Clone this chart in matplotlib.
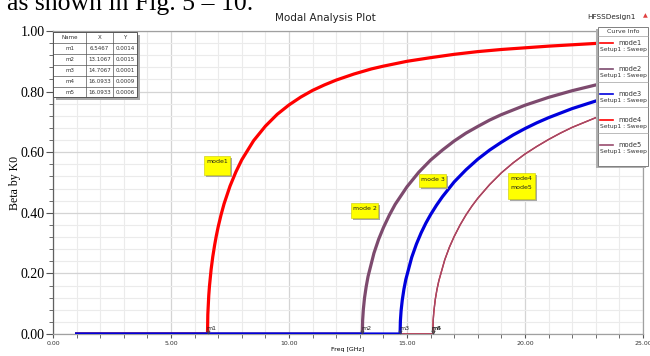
import matplotlib.pyplot as plt
from matplotlib.patches import Rectangle
from matplotlib.lines import Line2D
import numpy as np

W, H = 650, 356

# traces (Freq [GHz], Beta by K0)
mode1_f = [1.0, 6.5467, 6.56, 6.6, 6.63, 6.7, 6.77, 6.85, 6.92, 7.0, 7.12, 7.25, 7.5, 7.75, 8.0, 8.5, 9.0,
           9.5, 10, 10.5, 11, 11.5, 12, 12.75, 13.5, 14, 15, 16, 17, 18, 19, 21, 23, 25]
mode1_b = [0, 0, 0.064, 0.127, 0.158, 0.213, 0.255, 0.294, 0.324, 0.354, 0.393, 0.430, 0.488, 0.535, 0.575,
           0.638, 0.686, 0.725, 0.756, 0.782, 0.804, 0.822, 0.838, 0.858, 0.875, 0.884, 0.900, 0.912, 0.923,
           0.932, 0.939, 0.950, 0.959, 0.965]

mode2_f = [1.0, 13.1067, 13.12, 13.15, 13.2, 13.27, 13.35, 13.6, 13.8, 14.0, 14.25, 14.5, 15, 15.5, 16, 16.5,
           17, 17.5, 18, 18.5, 19, 20, 21, 22, 23, 24, 25]
mode2_b = [0, 0, 0.045, 0.081, 0.119, 0.156, 0.190, 0.267, 0.313, 0.351, 0.392, 0.428, 0.486, 0.534, 0.574,
           0.607, 0.637, 0.663, 0.685, 0.706, 0.724, 0.755, 0.781, 0.803, 0.822, 0.838, 0.852]

mode3_f = [1.0, 14.7067, 14.72, 14.75, 14.8, 14.87, 14.95, 15.2, 15.4, 15.6, 15.8, 16, 16.25, 16.5, 17, 17.5,
           18, 18.5, 19, 19.5, 20, 20.5, 21, 22, 23, 24, 25]
mode3_b = [0, 0, 0.043, 0.077, 0.112, 0.148, 0.180, 0.253, 0.297, 0.334, 0.366, 0.394, 0.425, 0.453, 0.502,
           0.542, 0.577, 0.607, 0.633, 0.657, 0.678, 0.697, 0.714, 0.744, 0.769, 0.790, 0.809]

mode45_f = [1.0, 16.0933, 16.11, 16.14, 16.2, 16.27, 16.35, 16.6, 16.8, 17, 17.25, 17.5, 17.75, 18, 18.5, 19,
            19.5, 20, 20.5, 21, 21.5, 22, 23, 24, 25]
mode45_b = [0, 0, 0.046, 0.076, 0.115, 0.147, 0.176, 0.245, 0.287, 0.322, 0.360, 0.393, 0.422, 0.448, 0.493,
            0.532, 0.565, 0.594, 0.619, 0.642, 0.663, 0.682, 0.714, 0.742, 0.765]

marker_names = ["m1", "m2", "m3", "m4", "m5"]
marker_x = [6.5467, 13.1067, 14.7067, 16.0933, 16.0933]
marker_y = [0.0014, 0.0015, 0.0001, 0.0009, 0.0006]

notes = [("mode1", 204, 156, 26, 19), ("mode 2", 351, 203, 27, 15),
         ("mode 3", 419, 174, 27, 13), ("mode4\nmode5", 508, 173, 27, 26)]

c_red = "#ff0000"
c_mauve = "#7d4a6e"
c_blue = "#0000dd"
c_mauve2 = "#9a4d6e"


def fx(x):
    return x / W


def fy(y):
    return 1 - y / H


fig = plt.figure(figsize=(6.5, 3.56), dpi=100)
ax = fig.add_axes([fx(53), fy(334), fx(643) - fx(53), fy(31) - fy(334)])

ax.set_xlim(0, 25)
ax.set_ylim(0, 1)
ax.set_xticks(np.arange(0, 26, 5))
ax.set_xticks(np.arange(0, 26, 1), minor=True)
ax.set_yticks(np.arange(0, 1.01, 0.2))
ax.set_yticks(np.arange(0, 1.01, 0.04), minor=True)
ax.grid(which="minor", color="#ebebeb", lw=0.8)
ax.grid(which="major", color="#d4d4d4", lw=0.9)
ax.set_axisbelow(True)
for s in ax.spines.values():
    s.set_color("#a0a0a0")
    s.set_linewidth(0.9)
ax.spines["left"].set_color("#606060")

ax.set_xticklabels([f"{v:.2f}" for v in range(0, 26, 5)], fontsize=4.5, color="#333333")
ax.set_yticklabels([f"{v:.2f}" for v in np.arange(0, 1.01, 0.2)], family="Liberation Serif", fontsize=10)
ax.tick_params(axis="x", which="both", length=3, color="#555555", pad=2)
ax.tick_params(axis="y", which="major", length=5, color="#555555", pad=1)
ax.tick_params(axis="y", which="minor", length=3, color="#555555")
ax.set_xlabel("Freq [GHz]", fontsize=4.5, labelpad=1)
ax.set_ylabel("Beta by K0", family="Liberation Serif", fontsize=8.5, labelpad=0)

ax.plot(mode1_f, mode1_b, color=c_red, lw=2.3, zorder=3)
ax.plot(mode2_f, mode2_b, color=c_mauve, lw=2.3, zorder=3)
ax.plot(mode45_f, mode45_b, color=c_red, lw=1.0, zorder=3)
ax.plot(mode45_f, mode45_b, color=c_mauve2, lw=1.0, zorder=3)
ax.plot(mode3_f, mode3_b, color=c_blue, lw=2.3, zorder=4)

# marker labels at the cutoffs
for name, mx, my in zip(marker_names, marker_x, marker_y):
    ax.plot(mx, my + 0.006, marker="v", ms=2.2, color="#444444", mfc="none", mew=0.6, zorder=5)
    ax.text(mx - 0.05, 0.013, name, fontsize=4.5, color="#222222", zorder=5)

# yellow notes
for txt, x, y, w, h in notes:
    fig.add_artist(Rectangle((fx(x + 2), fy(y + h + 2)), fx(w), h / H, color="#a8a8a8", lw=0))
    fig.add_artist(Rectangle((fx(x), fy(y + h)), fx(w), h / H, facecolor="#ffff00",
                             edgecolor="#c8c800", lw=0.4))
    fig.text(fx(x + 2), fy(y + 3), txt, fontsize=4.5, va="top", ha="left", linespacing=1.9, color="#202020")

# marker table
tx = [53, 86, 113, 137]
ty = [32, 43, 54, 65, 76, 87, 97]
fig.add_artist(Rectangle((fx(tx[0] + 3), fy(ty[-1] + 3)), fx(tx[-1] - tx[0]), (ty[-1] - ty[0]) / H,
                         color="#a8a8a8", lw=0))
fig.add_artist(Rectangle((fx(tx[0]), fy(ty[-1])), fx(tx[-1] - tx[0]), (ty[-1] - ty[0]) / H,
                         facecolor="white", edgecolor="#555555", lw=0.7))
for x in tx[1:-1]:
    fig.add_artist(Line2D([fx(x), fx(x)], [fy(ty[0]), fy(ty[-1])], color="#555555", lw=0.5))
for y in ty[1:-1]:
    fig.add_artist(Line2D([fx(tx[0]), fx(tx[-1])], [fy(y), fy(y)], color="#555555", lw=0.5))
rows = [("Name", "X", "Y")] + [(n, f"{x:.4f}", f"{y:.4f}") for n, x, y in zip(marker_names, marker_x, marker_y)]
for r, row in enumerate(rows):
    yc = (ty[r] + ty[r + 1]) / 2
    for c, cell in enumerate(row):
        xc = (tx[c] + tx[c + 1]) / 2
        fig.text(fx(xc), fy(yc), cell, fontsize=4, ha="center", va="center", color="#333333")

# curve info box
lx0, lx1, ly0, ly1 = 598, 648, 27, 166
fig.add_artist(Rectangle((fx(lx0 - 2), fy(ly1 + 2)), fx(lx1 - lx0), (ly1 - ly0) / H, color="#b0b0b0", lw=0))
fig.add_artist(Rectangle((fx(lx0), fy(ly1)), fx(lx1 - lx0), (ly1 - ly0) / H,
                         facecolor="white", edgecolor="#808080", lw=0.7))
fig.text(fx(623), fy(31.5), "Curve Info", fontsize=4.5, ha="center", va="center", color="#333333")
fig.add_artist(Line2D([fx(lx0), fx(lx1)], [fy(36), fy(36)], color="#a0a0a0", lw=0.5))
legend_names = ["mode1", "mode2", "mode3", "mode4", "mode5"]
legend_cols = [c_red, c_mauve, c_blue, c_red, c_mauve2]
for i, (nm, col) in enumerate(zip(legend_names, legend_cols)):
    y = 43 + 25.6 * i
    fig.add_artist(Line2D([fx(600), fx(613)], [fy(y), fy(y)], color=col, lw=1.2))
    fig.text(fx(618), fy(y), nm, fontsize=4.8, va="center", color="#333333")
    fig.text(fx(600), fy(y + 6.5), "Setup1 : Sweep", fontsize=4.3, va="center", color="#333333")
    if i < 4:
        yl = 56 + 25.6 * i
        fig.add_artist(Line2D([fx(lx0), fx(lx1)], [fy(yl), fy(yl)], color="#a0a0a0", lw=0.5))

# header texts
fig.text(0.5, fy(18), "Modal Analysis Plot", fontsize=7.5, ha="center", va="center", color="#222222")
fig.text(fx(611), fy(17), "HFSSDesign1", fontsize=5.2, ha="center", va="center", color="#222222")
fig.text(fx(645), fy(16), "\u25b2", fontsize=4.5, ha="center", va="center", color="#e04040")
fig.text(fx(7), fy(10), "as shown in Fig. 5 \u2013 10.", family="Liberation Serif", fontsize=18.5,
         ha="left", va="baseline")

plt.savefig("out.png", dpi=100)
